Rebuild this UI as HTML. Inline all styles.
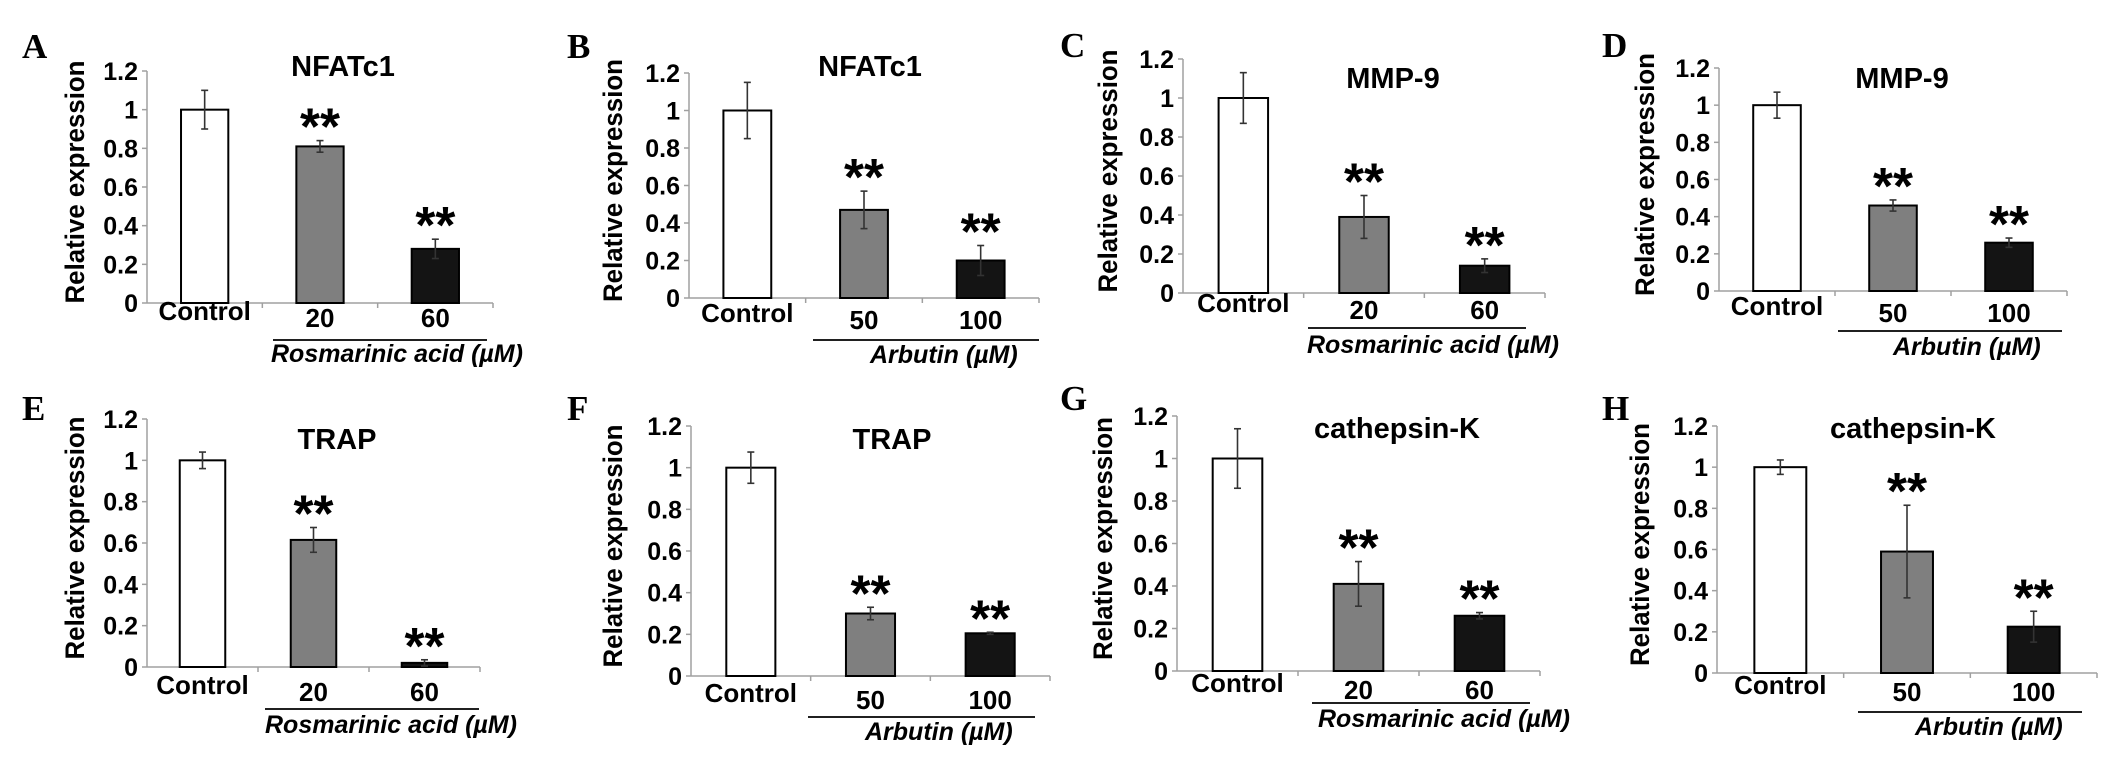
<!DOCTYPE html>
<html><head><meta charset="utf-8"><style>
html,body{margin:0;padding:0;background:#fff;}
svg{display:block;font-family:"Liberation Sans",Arial,sans-serif;}
</style></head><body>
<svg id="fig" width="2126" height="775" viewBox="0 0 2126 775" xmlns="http://www.w3.org/2000/svg"></svg>
<script>
// ---- data ----
const panelLetters = ["A","B","C","D","E","F","G","H"];
const panelTitles = ["NFATc1","NFATc1","MMP-9","MMP-9","TRAP","TRAP","cathepsin-K","cathepsin-K"];
const catsRA = ["Control","20","60"];
const catsAR = ["Control","50","100"];
const groupRA = "Rosmarinic acid (µM)";
const groupAR = "Arbutin (µM)";
const valuesA = [1, 0.81, 0.28];  const errorsA = [0.10, 0.03, 0.05];
const valuesB = [1, 0.47, 0.20];  const errorsB = [0.15, 0.10, 0.08];
const valuesC = [1, 0.39, 0.14];  const errorsC = [0.13, 0.11, 0.035];
const valuesD = [1, 0.46, 0.26];  const errorsD = [0.07, 0.03, 0.025];
const valuesE = [1, 0.615, 0.02]; const errorsE = [0.04, 0.06, 0.015];
const valuesF = [1, 0.30, 0.205]; const errorsF = [0.075, 0.03, 0.005];
const valuesG = [1, 0.41, 0.26];  const errorsG = [0.14, 0.105, 0.015];
const valuesH = [1, 0.59, 0.225]; const errorsH = [0.035, 0.225, 0.075];
const sigFlags = [false, true, true];
const yTicks = [0, 0.2, 0.4, 0.6, 0.8, 1, 1.2];
const yTickLabels = ["0","0.2","0.4","0.6","0.8","1","1.2"];
const yMax = 1.2;

// ---- layout (pixel positions, not data) ----
const layouts = [
 {x0:147,x1:493,yT:71,y0:303,tx:343,ty:76,lx:22,ly:58,ytx:75,catY:323,ulY:340,ul0:273,ul1:487,gx:271,gy:362},
 {x0:689,x1:1039,yT:73,y0:298,tx:870,ty:76,lx:567,ly:58,ytx:613,catY:325,ulY:340,ul0:813,ul1:1039,gx:870,gy:363},
 {x0:1183,x1:1545,yT:59,y0:293,tx:1393,ty:88,lx:1060,ly:57,ytx:1108,catY:315,ulY:328,ul0:1308,ul1:1526,gx:1307,gy:353},
 {x0:1719,x1:2067,yT:68,y0:291,tx:1902,ty:88,lx:1602,ly:57,ytx:1645,catY:318,ulY:331,ul0:1838,ul1:2062,gx:1893,gy:355},
 {x0:147,x1:480,yT:419,y0:667,tx:337,ty:449,lx:22,ly:420,ytx:75,catY:697,ulY:709,ul0:265,ul1:479,gx:265,gy:733},
 {x0:691,x1:1050,yT:426,y0:676,tx:892,ty:449,lx:567,ly:420,ytx:613,catY:705,ulY:717,ul0:808,ul1:1035,gx:865,gy:740},
 {x0:1177,x1:1540,yT:416,y0:671,tx:1397,ty:438,lx:1060,ly:410,ytx:1103,catY:695,ulY:703,ul0:1312,ul1:1530,gx:1318,gy:727},
 {x0:1717,x1:2097,yT:426,y0:673,tx:1913,ty:438,lx:1602,ly:420,ytx:1640,catY:697,ulY:712,ul0:1858,ul1:2082,gx:1915,gy:735}
];
const allValues = [valuesA,valuesB,valuesC,valuesD,valuesE,valuesF,valuesG,valuesH];
const allErrors = [errorsA,errorsB,errorsC,errorsD,errorsE,errorsF,errorsG,errorsH];
const allCats = [catsRA,catsAR,catsRA,catsAR,catsRA,catsAR,catsRA,catsAR];
const allGroups = [groupRA,groupAR,groupRA,groupAR,groupRA,groupAR,groupRA,groupAR];
const barFills = ["#ffffff","#7f7f7f","#141414"];

const NS = "http://www.w3.org/2000/svg";
const svg = document.getElementById("fig");
function mk(tag, attrs, parent, txt){
  const e = document.createElementNS(NS, tag);
  for (const k in attrs) e.setAttribute(k, attrs[k]);
  if (txt !== undefined) e.textContent = txt;
  parent.appendChild(e);
  return e;
}

for (let p = 0; p < 8; p++) {
  const L = layouts[p];
  const vals = allValues[p], errs = allErrors[p], cats = allCats[p];
  const yScale = v => L.y0 - (v / yMax) * (L.y0 - L.yT);
  const catW = (L.x1 - L.x0) / cats.length;
  const xCenter = i => L.x0 + catW * (i + 0.5);
  const barW = catW * 0.41;

  const g = mk("g", {}, svg);
  
  

  const letter = mk("text", {x:L.lx, y:L.ly, "font-family":"'Liberation Serif',serif", "font-weight":"bold", "font-size":"35"}, g, panelLetters[p]);
  
  

  const title = mk("text", {x:L.tx, y:L.ty, "text-anchor":"middle", "font-weight":"bold", "font-size":"29"}, g, panelTitles[p]);
  
  

  const ymid = (L.yT + L.y0) / 2 - 5;
  const yt = mk("text", {x:L.ytx, y:ymid, transform:`rotate(-90 ${L.ytx} ${ymid})`, "text-anchor":"middle", "dominant-baseline":"central", "font-weight":"bold", "font-size":"27", textLength:"243", lengthAdjust:"spacingAndGlyphs"}, g, "Relative expression");
  
  

  const ya = mk("line", {x1:L.x0, y1:L.yT, x2:L.x0, y2:L.y0, stroke:"#a0a0a0", "stroke-width":"1.5"}, g);
  
  
  for (let t = 0; t < yTicks.length; t++) {
    const y = yScale(yTicks[t]);
    const tk = mk("line", {x1:L.x0 - 5, y1:y, x2:L.x0, y2:y, stroke:"#a0a0a0", "stroke-width":"1.5"}, g);
    
    
    const tl = mk("text", {x:L.x0 - 9, y:y + 1, "text-anchor":"end", "dominant-baseline":"central", "font-weight":"bold", "font-size":"25"}, g, yTickLabels[t]);
    
    
  }
  const xa = mk("line", {x1:L.x0, y1:L.y0, x2:L.x1, y2:L.y0, stroke:"#a0a0a0", "stroke-width":"1.5"}, g);
  
  
  for (let i = 1; i <= cats.length; i++) {
    const x = L.x0 + catW * i;
    const xt = mk("line", {x1:x, y1:L.y0, x2:x, y2:L.y0 + 5, stroke:"#a0a0a0", "stroke-width":"1.5"}, g);
    
    
  }

  for (let i = 0; i < cats.length; i++) {
    const cx = xCenter(i);
    const top = yScale(vals[i]);
    const bar = mk("rect", {x:cx - barW/2, y:top, width:barW, height:L.y0 - top, fill:barFills[i], stroke:"#000", "stroke-width":"2"}, g);
    
    

    const eTop = yScale(vals[i] + errs[i]);
    const eBot = yScale(vals[i] - errs[i]);
    const eg = mk("g", {stroke:"#333", "stroke-width":"1.6"}, g);
    
    
    mk("line", {x1:cx, y1:eTop, x2:cx, y2:eBot}, eg);
    mk("line", {x1:cx - 3.5, y1:eTop, x2:cx + 3.5, y2:eTop}, eg);
    mk("line", {x1:cx - 3.5, y1:eBot, x2:cx + 3.5, y2:eBot}, eg);

    if (sigFlags[i]) {
      const st = mk("text", {x:cx, y:eTop + 4, "text-anchor":"middle", "font-weight":"bold", "font-size":"52", textLength:"40", lengthAdjust:"spacingAndGlyphs"}, g, "**");
      
      
    }

    const cl = mk("text", {x:cx, y:L.catY + (i === 0 ? -3 : 4), "text-anchor":"middle", "font-weight":"bold", "font-size":"26"}, g, cats[i]);
    
    
  }

  const ul = mk("line", {x1:L.ul0, y1:L.ulY, x2:L.ul1, y2:L.ulY, stroke:"#000", "stroke-width":"1.8"}, g);
  
  
  const gl = mk("text", {x:L.gx, y:L.gy, "font-weight":"bold", "font-style":"italic", "font-size":"25"}, g, allGroups[p]);
  
  
}
</script>
</body></html>
